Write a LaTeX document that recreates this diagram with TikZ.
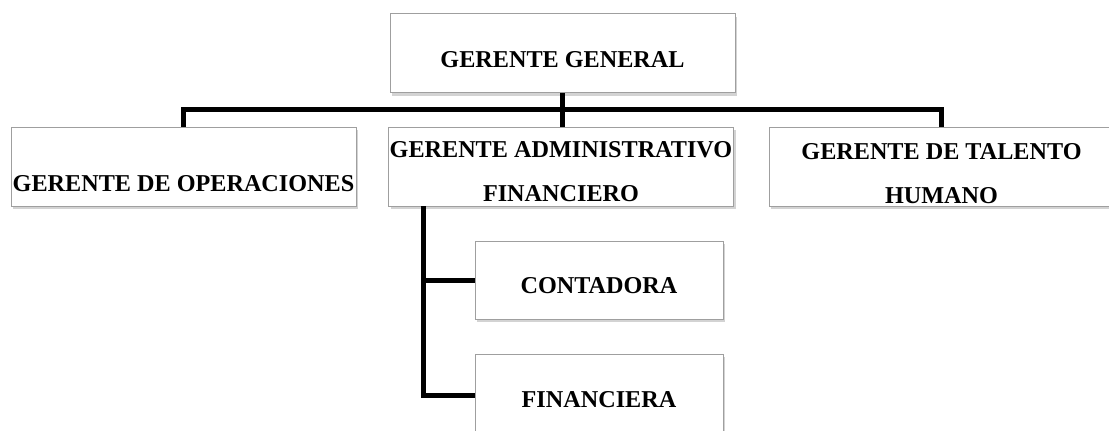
\documentclass[tikz,border=0pt]{standalone}
\usepackage{fontspec}
\setmainfont{Liberation Serif}
\usetikzlibrary{shadows}

\tikzset{
  unit/.style={draw=gray!75, line width=0.9pt, fill=white,
    drop shadow={shadow xshift=2pt, shadow yshift=-3pt, opacity=0.35},
    minimum width=345pt, minimum height=79pt, inner sep=0pt},
  unittext/.style={align=center, inner sep=0pt,
    font=\fontsize{24.2}{44}\selectfont\bfseries},
  link/.style={line width=5pt}
}

\begin{document}
\begin{tikzpicture}[x=1pt, y=-1pt]
        \useasboundingbox (0,0) rectangle (1109,431);
        % head
        \node[unit] (gg) at (562.5,53) {};
        \node[unittext] (ggt) at (562.5,60) {GERENTE GENERAL};
        % managers
        \node[unit] (gop) at (183.5,166.5) {};
        \node[unittext] (gopt) at (183.5,184) {GERENTE DE OPERACIONES};
        \node[unit] (gaf) at (561,166.5) {};
        \node[unittext] (gaft) at (561,172) {GERENTE ADMINISTRATIVO\\FINANCIERO};
        \node[unit] (gth) at (941.5,166.5) {};
        \node[unittext] (gtht) at (941.5,174) {GERENTE DE TALENTO\\HUMANO};
        % staff
        \node[unit, minimum width=248pt, minimum height=78pt] (cont) at (599,280) {};
        \node[unittext] (contt) at (599,286) {CONTADORA};
        \node[unit, minimum width=248pt, minimum height=78pt] (fin) at (599,393) {};
        \node[unittext] (fint) at (599,400) {FINANCIERA};
        % lines
        \coordinate (bus) at (562.5,109);
        \coordinate (spine) at ([xshift=35pt]gaf.south west);
        \draw[link] (gg.south) -- (bus);
        \draw[link] (gop.north) |- (bus) -| (gth.north);
        \draw[link] (bus) -- (bus |- gaf.north);
        \draw[link] (spine) |- ([yshift=-2pt]fin.west);
        \draw[link] (spine |- cont.west) -- (cont.west);
\end{tikzpicture}
\end{document}
